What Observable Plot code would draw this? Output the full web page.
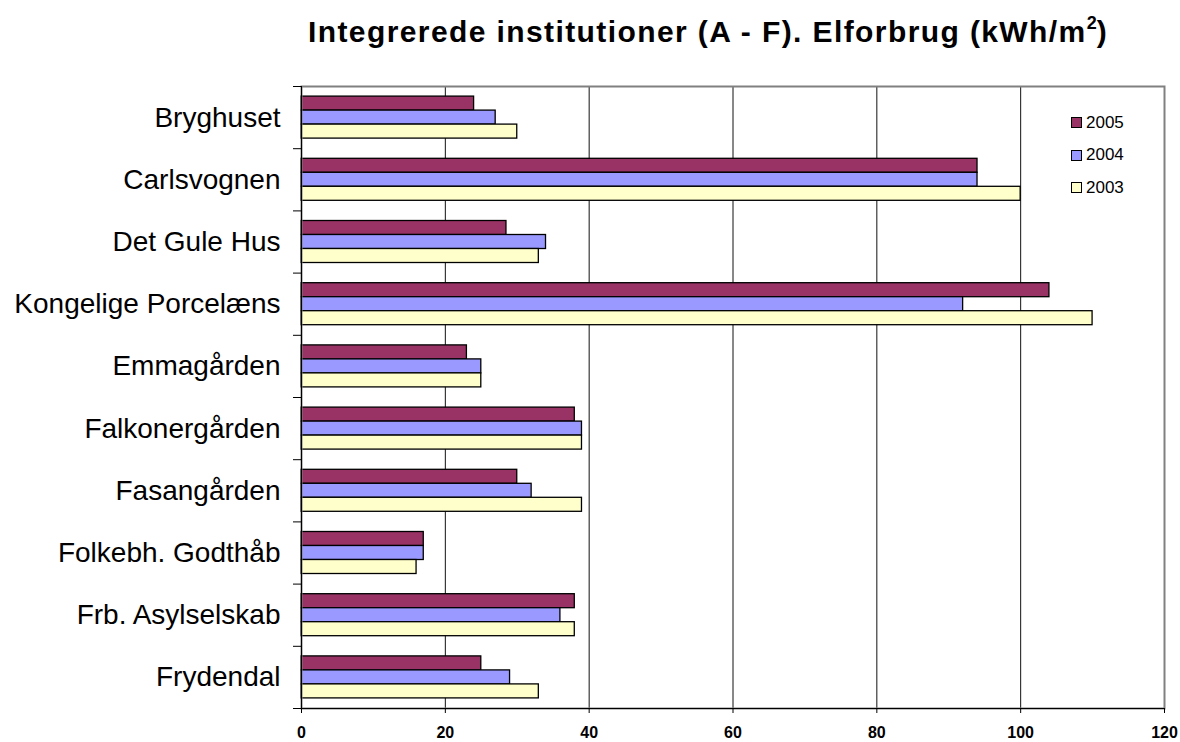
<!DOCTYPE html>
<html>
<head>
<meta charset="utf-8">
<script src="https://cdn.jsdelivr.net/npm/d3@7"></script>
<script src="https://cdn.jsdelivr.net/npm/@observablehq/plot@0.6"></script>
<style>
  html, body { margin: 0; padding: 0; background: #fff; }
  #root { position: relative; width: 1180px; height: 742px; font-family: "Liberation Sans", Arial, sans-serif; }
  #title { position: relative; height: 70px; }
  #title span { position: absolute; left: 308px; top: 17px; font-weight: bold; font-size: 30px; letter-spacing: 1.4px; line-height: 30px; white-space: nowrap; color: #000; }
  #title sup { font-size: 18px; vertical-align: 13px; line-height: 0; letter-spacing: 0; }
  #legend { position: absolute; left: 1071px; top: 112px; font-size: 17px; color: #000; }
  #legend .row { display: flex; align-items: center; height: 21px; margin-bottom: 11.5px; }
  #legend .sw { width: 9px; height: 9px; border: 1px solid #000; margin-right: 4px; }
  #chart svg g[aria-label="x-axis tick label"] text { font-weight: bold; font-size: 16px; }
</style>
</head>
<body>
<div id="root">
  <div id="title"><span>Integrerede institutioner (A - F). Elforbrug (kWh/m<sup>2</sup>)</span></div>
  <div id="chart"></div>
  <div id="legend"></div>
</div>
<script>
const categories = ["Bryghuset", "Carlsvognen", "Det Gule Hus", "Kongelige Porcelæns", "Emmagården",
  "Falkonergården", "Fasangården", "Folkebh. Godthåb", "Frb. Asylselskab", "Frydendal"];
const years = ["2005", "2004", "2003"];
const values2005 = [24, 94, 28.5, 104, 23, 38, 30, 17, 38, 25];
const values2004 = [27, 94, 34, 92, 25, 39, 32, 17, 36, 29];
const values2003 = [30, 100, 33, 110, 25, 39, 39, 16, 38, 33];
const xTicks = [0, 20, 40, 60, 80, 100, 120];
const yearColors = ["#993366", "#9999FF", "#FFFFCC"];

const seriesValues = [values2005, values2004, values2003];
const rows = years.flatMap((yr, k) => categories.map((c, i) => ({category: c, year: yr, value: seriesValues[k][i]})));

const H = 672, mTop = 16, mBottom = 34;
const band = (H - mTop - mBottom) / categories.length;
const barH = 14;

const barMarks = years.map((yr, k) => Plot.barX(rows.filter(d => d.year === yr), {
  x: "value", y: "category",
  fill: yearColors[k], stroke: "#000", strokeWidth: 1.3,
  insetTop: (band - barH) / 2, insetBottom: (band - barH) / 2,
  dy: (k - 1) * barH
}));

const chart = Plot.plot({
  width: 1180, height: H,
  marginLeft: 301, marginRight: 16, marginTop: mTop, marginBottom: mBottom,
  style: {fontFamily: "Liberation Sans, Arial, sans-serif", background: "#fff", color: "#000"},
  x: {domain: [0, 120], ticks: xTicks},
  y: {type: "band", domain: categories, padding: 0, round: false},
  marks: [
    Plot.gridX(xTicks, {stroke: "#111", strokeOpacity: 1, strokeWidth: 1}),
    ...barMarks,
    Plot.frame({stroke: "#808080", strokeWidth: 2}),
    Plot.ruleX([0], {stroke: "#000", strokeWidth: 1}),
    Plot.ruleY([categories[categories.length - 1]], {dy: band / 2, stroke: "#000", insetLeft: -8}),
    Plot.ruleY(categories, {x1: 0, x2: 0, dy: -band / 2, stroke: "#000", insetLeft: -8}),
    Plot.axisY({tickSize: 0, tickPadding: 21, fontSize: 28, label: null}),
    Plot.axisX({ticks: xTicks, tickSize: 5, tickPadding: 13, fontSize: 16, fontWeight: "bold", label: null})
  ]
});
document.getElementById("chart").appendChild(chart);

const legend = document.getElementById("legend");
years.forEach((yr, k) => {
  const row = document.createElement("div");
  row.className = "row";
  const sw = document.createElement("div");
  sw.className = "sw";
  sw.style.background = yearColors[k];
  const t = document.createElement("span");
  t.textContent = yr;
  row.appendChild(sw); row.appendChild(t);
  legend.appendChild(row);
});
</script>
</body>
</html>
